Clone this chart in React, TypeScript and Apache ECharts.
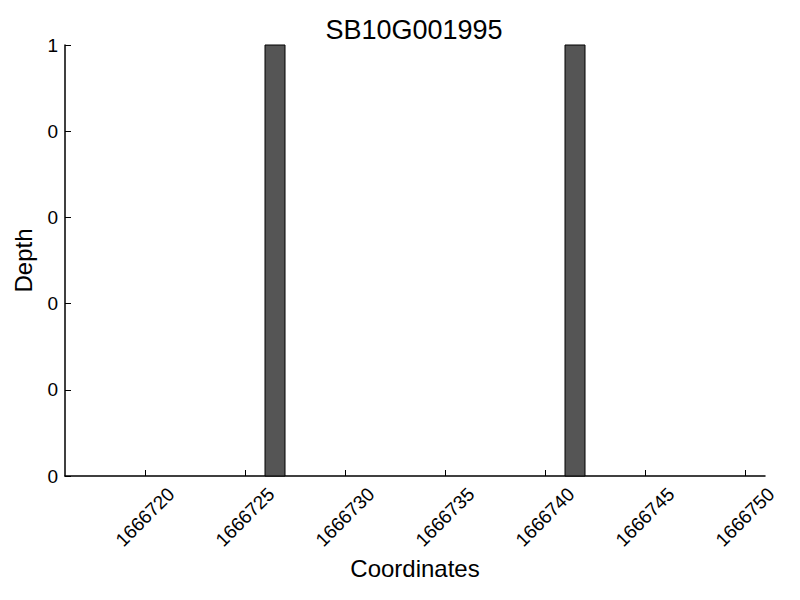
import React, { useEffect, useRef } from "react";
import * as echarts from "echarts";

const title = "SB10G001995";
const binStarts = [1666726, 1666741];
const binEnds = [1666727, 1666742];
const depths = [1, 1];
const xTickValues = [1666720, 1666725, 1666730, 1666735, 1666740, 1666745, 1666750];
const xMin = 1666716;
const xMax = 1666751;

const FONT = "Liberation Sans";

export default function App() {
  const ref = useRef<HTMLDivElement>(null);
  useEffect(() => {
    if (!ref.current) return;
    const chart = echarts.init(ref.current, undefined, { renderer: "svg" });
    const data = binStarts.map((s, i) => [s, binEnds[i], depths[i]]);
    chart.setOption({
      animation: false,
      backgroundColor: "#fff",
      title: {
        text: title,
        left: 409,
        textAlign: "center",
        top: 11,
        textStyle: { fontFamily: FONT, fontSize: 27, fontWeight: "normal", color: "#000" },
      },
      grid: { left: 65, right: 35, top: 45, bottom: 124 },
      xAxis: {
        type: "value",
        min: xMin,
        max: xMax,
        name: "Coordinates",
        nameLocation: "middle",
        nameGap: 80,
        nameTextStyle: { fontFamily: FONT, fontSize: 24, color: "#000" },
        splitLine: { show: false },
        axisLine: { show: true, onZero: false, lineStyle: { color: "#000", width: 1.5 } },
        axisTick: { show: true, inside: true, length: 6, customValues: xTickValues, lineStyle: { color: "#000", width: 1 } },
        axisLabel: {
          customValues: xTickValues,
          rotate: 45,
          align: "center",
          verticalAlign: "middle",
          margin: 41,
          fontFamily: FONT,
          fontSize: 19,
          color: "#000",
          formatter: (v: number) => String(v),
        },
      },
      yAxis: {
        type: "value",
        min: 0,
        max: 1,
        interval: 0.2,
        name: "Depth",
        nameLocation: "middle",
        nameGap: 30,
        nameTextStyle: { fontFamily: FONT, fontSize: 24, color: "#000" },
        splitLine: { show: false },
        axisLine: { show: true, lineStyle: { color: "#000", width: 1.5 } },
        axisTick: { show: true, inside: true, length: 6, lineStyle: { color: "#000", width: 1 } },
        axisLabel: {
          margin: 7,
          fontFamily: FONT,
          fontSize: 19,
          color: "#000",
          formatter: (v: number) => String(Math.floor(v + 1e-9)),
        },
      },
      series: [
        {
          type: "custom",
          data,
          encode: { x: [0, 1], y: 2 },
          renderItem: (params: any, api: any) => {
            const p0 = api.coord([api.value(0), 0]);
            const p1 = api.coord([api.value(1), api.value(2)]);
            return {
              type: "rect",
              shape: { x: p0[0], y: p1[1], width: p1[0] - p0[0], height: p0[1] - p1[1] },
              style: { fill: "#555555", stroke: "#000", lineWidth: 1 },
            };
          },
        },
      ],
    });
    return () => chart.dispose();
  }, []);
  return <div ref={ref} style={{ width: 800, height: 600, position: "absolute", left: 0, top: 0 }} />;
}
